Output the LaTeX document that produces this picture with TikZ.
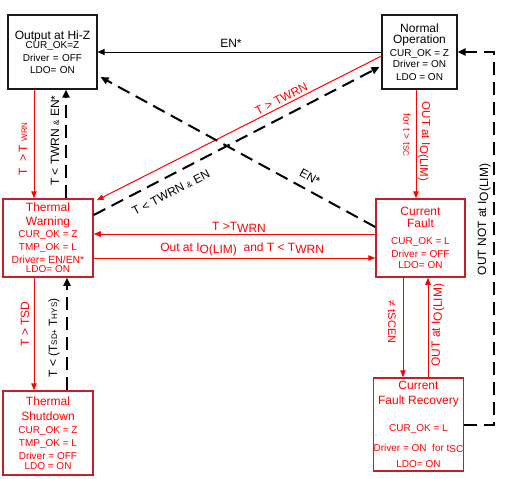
\documentclass[tikz,border=0pt]{standalone}
\usepackage{fontspec}
\setmainfont{Liberation Sans}
\usetikzlibrary{arrows.meta,calc}
\definecolor{rd}{RGB}{255,0,0}
\definecolor{drd}{RGB}{196,30,40}
\newcommand{\smf}{\fontsize{8}{9}\selectfont}
\begin{document}
\begin{tikzpicture}[x=1pt,y=-1pt,
  bbox/.style={draw=black!90, line width=1.1pt, fill=white, inner sep=0pt, align=center, font=\fontsize{10}{13}\selectfont},
  rbox/.style={draw=drd, line width=1.5pt, fill=white, text=rd, inner sep=0pt, align=center, font=\fontsize{10}{13}\selectfont},
  rl/.style={draw=rd, line width=1pt, -{Triangle[length=7pt,width=5.5pt]}},
  bl/.style={draw=black, line width=1pt, -{Triangle[length=7pt,width=6pt]}},
  dl/.style={draw=black, line width=2pt, dash pattern=on 13pt off 7pt, -{Triangle[length=8pt,width=7pt]}},
  lab/.style={font=\fontsize{12}{14}\selectfont, inner sep=0.5pt, text=black},
  rlab/.style={lab, text=rd},
]
\useasboundingbox (0,0) rectangle (506,479);

% states
\node[bbox, text width=85pt, minimum width=89pt, minimum height=74pt] (hiz) at (52.5,52)
  {{\fontsize{12}{14}\selectfont Output at Hi-Z}\\[-4.5pt]
   CUR\_OK=Z\\[0pt] Driver = OFF\\[-1pt] LDO= ON};
\node[bbox, minimum width=75pt, minimum height=74pt] (norm) at (419.5,52)
  {{\fontsize{12}{14}\selectfont Normal}\\[-1.4pt]
   {\fontsize{12}{14}\selectfont Operation}\\[-0.8pt]
   CUR\_OK = Z\\[-1.4pt] Driver = ON\\[-0.3pt] LDO = ON};
\node[rbox, minimum width=90pt, minimum height=78pt] (tw) at (48,238)
  {{\fontsize{12}{14}\selectfont Thermal}\\[0.7pt]
   {\fontsize{12}{14}\selectfont Warning}\\[-0.4pt]
   CUR\_OK = Z\\ TMP\_OK = L\\ {\fontsize{10.4}{13}\selectfont Driver= EN/EN*}\\[-4pt] LDO= ON};
\node[rbox, minimum width=89pt, minimum height=78pt] (cf) at (420.5,238)
  {{\fontsize{12}{14}\selectfont Current}\\[-1pt]
   {\fontsize{12}{14}\selectfont Fault}\\[3.3pt]
   CUR\_OK = L\\ Driver = OFF\\[-2pt] LDO= ON};
\node[rbox, minimum width=90pt, minimum height=84pt] (ts) at (48,433)
  {{\fontsize{12}{14}\selectfont Thermal}\\[2pt]
   {\fontsize{12}{14}\selectfont Shutdown}\\[-0.4pt]
   CUR\_OK = Z\\ TMP\_OK = L\\[0.7pt] Driver = OFF\\[-3.7pt] LDO = ON};
\node[rbox, minimum width=89pt, minimum height=93pt] (cfr) at (418.5,424.5)
  {{\fontsize{12}{14}\selectfont Current}\\[2pt]
   {\fontsize{12}{14}\selectfont Fault Recovery}\\[13.6pt]
   CUR\_OK = L\\[7pt] Driver = ON\ \ for t\raisebox{-1.5pt}{SC}\\[3pt] LDO= ON};

% transitions
\draw[bl] (norm.west) -- node[lab, pos=.53, yshift=9pt] (l1) {EN*} (hiz.east);

\draw[rl] ([xshift=-18.5pt]hiz.south) -- node[rlab, pos=.545, xshift=-11pt, rotate=90] (l2)
  {T\hspace{6pt}>\hspace{2pt}T\hspace{4pt}{\smf WRN}} ([xshift=-14pt]tw.north);

\draw[dl] ([xshift=18pt]tw.north) -- node[lab, pos=.53, xshift=-11pt, rotate=90] (l3)
  {T < TWRN {\smf\&} EN*} ([xshift=13.5pt]hiz.south);

\draw[rl] ([yshift=-4pt]norm.west) -- node[rlab, pos=.34, sloped, above=2pt] (l4)
  {T > TWRN} ([shift={(3,2)}]tw.north east);

\draw[dl] ([yshift=23pt]tw.east) -- node[lab, pos=.245, sloped, below=10pt] (l5)
  {T < TWRN {\smf\&} EN} ([shift={(-2,15)}]norm.west);

\draw[dl] ([yshift=11pt]cf.west) -- node[lab, pos=.26, sloped, above=7pt] (l6)
  {EN*} ([shift={(3,25)}]hiz.east);

\draw[rl] ([yshift=4pt]cf.west) -- node[rlab, pos=.484, above=1pt] (l7)
  {T >T\raisebox{-1.5pt}{WRN}} ([yshift=4pt]tw.east);

\draw[rl] ([yshift=-20pt]tw.east) -- node[rlab, pos=.527, above=1pt] (l8)
  {Out at I\raisebox{-2pt}{O(LIM)}\ \ and T < T\raisebox{-1.5pt}{WRN}} ([yshift=-20pt]cf.west);

\draw[rl] ([xshift=-3.5pt]norm.south) --
  node[rlab, font=\fontsize{11.5}{13}\selectfont, pos=.477, xshift=8pt, rotate=-90] (l9) {OUT at I\raisebox{-2pt}{O(LIM)}}
  node[rlab, font=\fontsize{10}{11}\selectfont, pos=.418, xshift=-9pt, rotate=-90] (l10) {for t > t{\smf SC}}
  ([xshift=-4.5pt]cf.north);

\draw[rl] ([xshift=-17.5pt]cf.south) -- node[rlab, font=\fontsize{11}{13}\selectfont, pos=.446, xshift=-11pt, rotate=-90] (l11)
  {≠ tSCEN} ([xshift=-15.5pt]cfr.north);

\draw[rl] ([xshift=9.5pt]cfr.north) -- node[rlab, pos=.525, xshift=10pt, rotate=90] (l12)
  {OUT at I\raisebox{-2pt}{O(LIM)}} ([xshift=7.5pt]cf.south);

\draw[dl] (cfr.east) -- ++(30,0) |- node[lab, pos=.275, xshift=-10pt, rotate=90] (l13)
  {OUT NOT at I\raisebox{-2pt}{O(LIM)}} (norm.east);

\draw[rl] ([xshift=-14pt]tw.south) -- node[rlab, pos=.41, xshift=-9pt, rotate=90] (l14)
  {T > TSD} ([xshift=-14pt]ts.north);

\draw[dl] ([xshift=19pt]ts.north) -- node[lab, pos=.465, xshift=-13pt, rotate=90] (l15)
  {T <\hspace{3pt}(T{\smf SD+}\hspace{3pt}T{\smf HYS})} ([xshift=19pt]tw.south);
\end{tikzpicture}
\end{document}
